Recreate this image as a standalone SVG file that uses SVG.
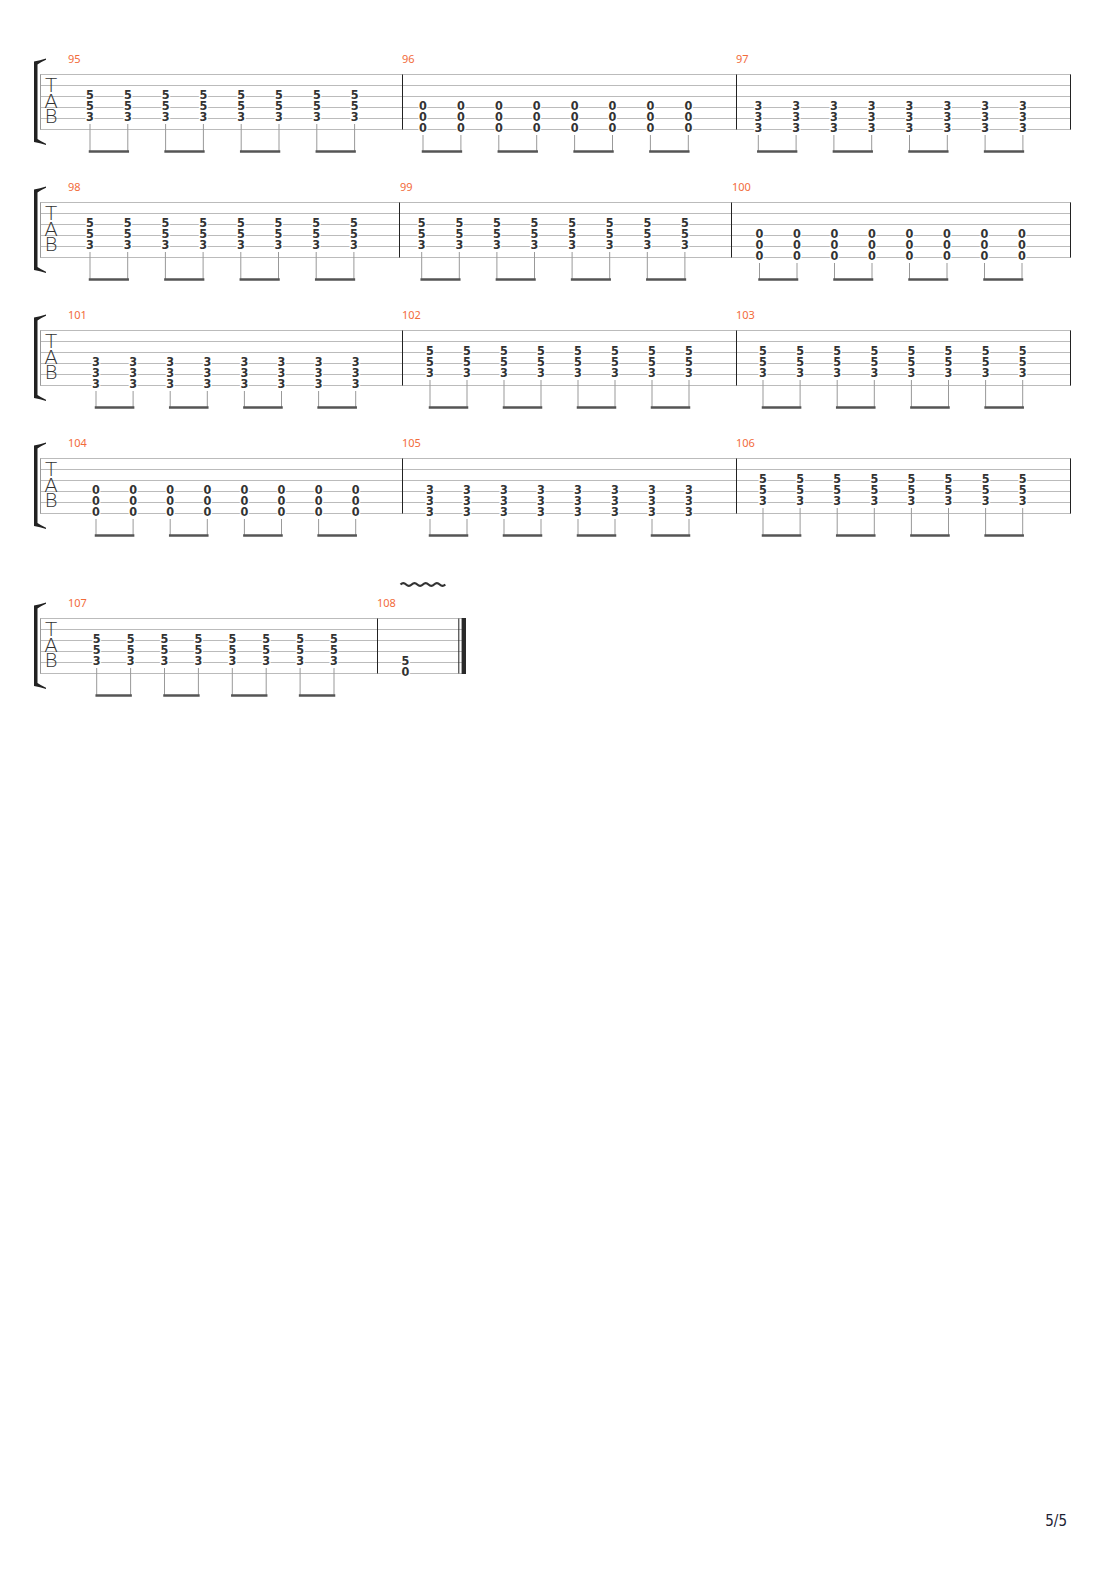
<svg xmlns="http://www.w3.org/2000/svg" width="1110" height="1570" viewBox="0 0 1110 1570">
<style>
.sl{stroke:#bbb;stroke-width:1;fill:none}
.bl{stroke:#222;stroke-width:1;fill:none}
.sys{stroke:#999;stroke-width:1;fill:none}
.st{stroke:#999;stroke-width:1;fill:none}
.bm{stroke:#555;stroke-width:2.5;stroke-linecap:square;fill:none}
.n{font-family:"Liberation Sans Narrow","DejaVu Sans Condensed","DejaVu Sans",sans-serif;font-size:12.5px;font-weight:bold;fill:#333;text-anchor:middle;stroke:#fff;stroke-width:2.5px;paint-order:stroke;stroke-linejoin:round}
.mn{font-family:"Noto Sans","DejaVu Sans",sans-serif;font-size:11px;fill:#f26b3a}
.tab{font-family:"DejaVu Sans",sans-serif;font-weight:200;font-size:20px;fill:#333;text-anchor:middle}
.br{fill:#222}
.pg{font-family:"DejaVu Sans Condensed","DejaVu Sans",sans-serif;font-size:15px;fill:#1c2233;text-anchor:end}
</style>
<defs>
<path id="bracket" class="br" d="M34 61.5Q40 60.5 46 58.5L46 59.8Q41 62 37.5 64.5L37.5 139Q41 141.5 46 143.7L46 145Q40 143 34 142Z"/>
</defs>
<rect width="1110" height="1570" fill="#fff"/>

<!-- System 1 -->
<g id="system1">
<use href="#bracket"/>
<path class="sl" d="M40 74.5H1071M40 85.5H1071M40 96.5H1071M40 107.5H1071M40 118.5H1071M40 129.5H1071"/>
<path class="sys" d="M40.5 74.5V129.5"/>
<path class="bl" d="M402.5 74.5V129.5M736.5 74.5V129.5M1070.5 74.5V129.5"/>
<text class="tab" x="51" y="91.7">T</text><text class="tab" x="51" y="107.7">A</text><text class="tab" x="51" y="123.3">B</text>
<text class="mn" x="68" y="62.5">95</text><text class="mn" x="402" y="62.5">96</text><text class="mn" x="736" y="62.5">97</text>
<g id="m95" class="n">
<text x="90" y="98.5">5</text><text x="90" y="109.5">5</text><text x="90" y="120.5">3</text>
<text x="127.8" y="98.5">5</text><text x="127.8" y="109.5">5</text><text x="127.8" y="120.5">3</text>
<text x="165.6" y="98.5">5</text><text x="165.6" y="109.5">5</text><text x="165.6" y="120.5">3</text>
<text x="203.4" y="98.5">5</text><text x="203.4" y="109.5">5</text><text x="203.4" y="120.5">3</text>
<text x="241.2" y="98.5">5</text><text x="241.2" y="109.5">5</text><text x="241.2" y="120.5">3</text>
<text x="279" y="98.5">5</text><text x="279" y="109.5">5</text><text x="279" y="120.5">3</text>
<text x="316.8" y="98.5">5</text><text x="316.8" y="109.5">5</text><text x="316.8" y="120.5">3</text>
<text x="354.6" y="98.5">5</text><text x="354.6" y="109.5">5</text><text x="354.6" y="120.5">3</text>
</g>
<g id="m96" class="n">
<text x="423" y="109.5">0</text><text x="423" y="120.5">0</text><text x="423" y="131.5">0</text>
<text x="460.9" y="109.5">0</text><text x="460.9" y="120.5">0</text><text x="460.9" y="131.5">0</text>
<text x="498.8" y="109.5">0</text><text x="498.8" y="120.5">0</text><text x="498.8" y="131.5">0</text>
<text x="536.7" y="109.5">0</text><text x="536.7" y="120.5">0</text><text x="536.7" y="131.5">0</text>
<text x="574.6" y="109.5">0</text><text x="574.6" y="120.5">0</text><text x="574.6" y="131.5">0</text>
<text x="612.5" y="109.5">0</text><text x="612.5" y="120.5">0</text><text x="612.5" y="131.5">0</text>
<text x="650.4" y="109.5">0</text><text x="650.4" y="120.5">0</text><text x="650.4" y="131.5">0</text>
<text x="688.3" y="109.5">0</text><text x="688.3" y="120.5">0</text><text x="688.3" y="131.5">0</text>
</g>
<g id="m97" class="n">
<text x="758.3" y="109.5">3</text><text x="758.3" y="120.5">3</text><text x="758.3" y="131.5">3</text>
<text x="796.1" y="109.5">3</text><text x="796.1" y="120.5">3</text><text x="796.1" y="131.5">3</text>
<text x="833.9" y="109.5">3</text><text x="833.9" y="120.5">3</text><text x="833.9" y="131.5">3</text>
<text x="871.7" y="109.5">3</text><text x="871.7" y="120.5">3</text><text x="871.7" y="131.5">3</text>
<text x="909.5" y="109.5">3</text><text x="909.5" y="120.5">3</text><text x="909.5" y="131.5">3</text>
<text x="947.3" y="109.5">3</text><text x="947.3" y="120.5">3</text><text x="947.3" y="131.5">3</text>
<text x="985.1" y="109.5">3</text><text x="985.1" y="120.5">3</text><text x="985.1" y="131.5">3</text>
<text x="1022.9" y="109.5">3</text><text x="1022.9" y="120.5">3</text><text x="1022.9" y="131.5">3</text>
</g>
</g>

<!-- System 2 -->
<g id="system2">
<use href="#bracket" y="128"/>
<path class="sl" d="M40 202.5H1071M40 213.5H1071M40 224.5H1071M40 235.5H1071M40 246.5H1071M40 257.5H1071"/>
<path class="sys" d="M40.5 202.5V257.5"/>
<path class="bl" d="M399.5 202.5V257.5M731.5 202.5V257.5M1070.5 202.5V257.5"/>
<text class="tab" x="51" y="219.7">T</text><text class="tab" x="51" y="235.7">A</text><text class="tab" x="51" y="251.3">B</text>
<text class="mn" x="68" y="190.5">98</text><text class="mn" x="400" y="190.5">99</text><text class="mn" x="732" y="190.5">100</text>
<g id="m98" class="n">
<text x="90" y="226.5">5</text><text x="90" y="237.5">5</text><text x="90" y="248.5">3</text>
<text x="127.7" y="226.5">5</text><text x="127.7" y="237.5">5</text><text x="127.7" y="248.5">3</text>
<text x="165.4" y="226.5">5</text><text x="165.4" y="237.5">5</text><text x="165.4" y="248.5">3</text>
<text x="203.1" y="226.5">5</text><text x="203.1" y="237.5">5</text><text x="203.1" y="248.5">3</text>
<text x="240.8" y="226.5">5</text><text x="240.8" y="237.5">5</text><text x="240.8" y="248.5">3</text>
<text x="278.5" y="226.5">5</text><text x="278.5" y="237.5">5</text><text x="278.5" y="248.5">3</text>
<text x="316.2" y="226.5">5</text><text x="316.2" y="237.5">5</text><text x="316.2" y="248.5">3</text>
<text x="353.9" y="226.5">5</text><text x="353.9" y="237.5">5</text><text x="353.9" y="248.5">3</text>
</g>
<g id="m99" class="n">
<text x="421.7" y="226.5">5</text><text x="421.7" y="237.5">5</text><text x="421.7" y="248.5">3</text>
<text x="459.3" y="226.5">5</text><text x="459.3" y="237.5">5</text><text x="459.3" y="248.5">3</text>
<text x="496.9" y="226.5">5</text><text x="496.9" y="237.5">5</text><text x="496.9" y="248.5">3</text>
<text x="534.5" y="226.5">5</text><text x="534.5" y="237.5">5</text><text x="534.5" y="248.5">3</text>
<text x="572.1" y="226.5">5</text><text x="572.1" y="237.5">5</text><text x="572.1" y="248.5">3</text>
<text x="609.7" y="226.5">5</text><text x="609.7" y="237.5">5</text><text x="609.7" y="248.5">3</text>
<text x="647.3" y="226.5">5</text><text x="647.3" y="237.5">5</text><text x="647.3" y="248.5">3</text>
<text x="684.9" y="226.5">5</text><text x="684.9" y="237.5">5</text><text x="684.9" y="248.5">3</text>
</g>
<g id="m100" class="n">
<text x="759.5" y="237.5">0</text><text x="759.5" y="248.5">0</text><text x="759.5" y="259.5">0</text>
<text x="797" y="237.5">0</text><text x="797" y="248.5">0</text><text x="797" y="259.5">0</text>
<text x="834.5" y="237.5">0</text><text x="834.5" y="248.5">0</text><text x="834.5" y="259.5">0</text>
<text x="872" y="237.5">0</text><text x="872" y="248.5">0</text><text x="872" y="259.5">0</text>
<text x="909.5" y="237.5">0</text><text x="909.5" y="248.5">0</text><text x="909.5" y="259.5">0</text>
<text x="947" y="237.5">0</text><text x="947" y="248.5">0</text><text x="947" y="259.5">0</text>
<text x="984.5" y="237.5">0</text><text x="984.5" y="248.5">0</text><text x="984.5" y="259.5">0</text>
<text x="1022" y="237.5">0</text><text x="1022" y="248.5">0</text><text x="1022" y="259.5">0</text>
</g>
</g>

<!-- System 3 -->
<g id="system3">
<use href="#bracket" y="256"/>
<path class="sl" d="M40 330.5H1071M40 341.5H1071M40 352.5H1071M40 363.5H1071M40 374.5H1071M40 385.5H1071"/>
<path class="sys" d="M40.5 330.5V385.5"/>
<path class="bl" d="M402.5 330.5V385.5M736.5 330.5V385.5M1070.5 330.5V385.5"/>
<text class="tab" x="51" y="347.7">T</text><text class="tab" x="51" y="363.7">A</text><text class="tab" x="51" y="379.3">B</text>
<text class="mn" x="68" y="318.5">101</text><text class="mn" x="402" y="318.5">102</text><text class="mn" x="736" y="318.5">103</text>
<g id="m101" class="n">
<text x="96" y="365.5">3</text><text x="96" y="376.5">3</text><text x="96" y="387.5">3</text>
<text x="133.1" y="365.5">3</text><text x="133.1" y="376.5">3</text><text x="133.1" y="387.5">3</text>
<text x="170.2" y="365.5">3</text><text x="170.2" y="376.5">3</text><text x="170.2" y="387.5">3</text>
<text x="207.3" y="365.5">3</text><text x="207.3" y="376.5">3</text><text x="207.3" y="387.5">3</text>
<text x="244.4" y="365.5">3</text><text x="244.4" y="376.5">3</text><text x="244.4" y="387.5">3</text>
<text x="281.5" y="365.5">3</text><text x="281.5" y="376.5">3</text><text x="281.5" y="387.5">3</text>
<text x="318.6" y="365.5">3</text><text x="318.6" y="376.5">3</text><text x="318.6" y="387.5">3</text>
<text x="355.7" y="365.5">3</text><text x="355.7" y="376.5">3</text><text x="355.7" y="387.5">3</text>
</g>
<g id="m102" class="n">
<text x="430" y="354.5">5</text><text x="430" y="365.5">5</text><text x="430" y="376.5">3</text>
<text x="467" y="354.5">5</text><text x="467" y="365.5">5</text><text x="467" y="376.5">3</text>
<text x="504" y="354.5">5</text><text x="504" y="365.5">5</text><text x="504" y="376.5">3</text>
<text x="541" y="354.5">5</text><text x="541" y="365.5">5</text><text x="541" y="376.5">3</text>
<text x="578" y="354.5">5</text><text x="578" y="365.5">5</text><text x="578" y="376.5">3</text>
<text x="615" y="354.5">5</text><text x="615" y="365.5">5</text><text x="615" y="376.5">3</text>
<text x="652" y="354.5">5</text><text x="652" y="365.5">5</text><text x="652" y="376.5">3</text>
<text x="689" y="354.5">5</text><text x="689" y="365.5">5</text><text x="689" y="376.5">3</text>
</g>
<g id="m103" class="n">
<text x="763" y="354.5">5</text><text x="763" y="365.5">5</text><text x="763" y="376.5">3</text>
<text x="800.1" y="354.5">5</text><text x="800.1" y="365.5">5</text><text x="800.1" y="376.5">3</text>
<text x="837.2" y="354.5">5</text><text x="837.2" y="365.5">5</text><text x="837.2" y="376.5">3</text>
<text x="874.3" y="354.5">5</text><text x="874.3" y="365.5">5</text><text x="874.3" y="376.5">3</text>
<text x="911.4" y="354.5">5</text><text x="911.4" y="365.5">5</text><text x="911.4" y="376.5">3</text>
<text x="948.5" y="354.5">5</text><text x="948.5" y="365.5">5</text><text x="948.5" y="376.5">3</text>
<text x="985.6" y="354.5">5</text><text x="985.6" y="365.5">5</text><text x="985.6" y="376.5">3</text>
<text x="1022.7" y="354.5">5</text><text x="1022.7" y="365.5">5</text><text x="1022.7" y="376.5">3</text>
</g>
</g>

<!-- System 4 -->
<g id="system4">
<use href="#bracket" y="384"/>
<path class="sl" d="M40 458.5H1071M40 469.5H1071M40 480.5H1071M40 491.5H1071M40 502.5H1071M40 513.5H1071"/>
<path class="sys" d="M40.5 458.5V513.5"/>
<path class="bl" d="M402.5 458.5V513.5M736.5 458.5V513.5M1070.5 458.5V513.5"/>
<text class="tab" x="51" y="475.7">T</text><text class="tab" x="51" y="491.7">A</text><text class="tab" x="51" y="507.3">B</text>
<text class="mn" x="68" y="446.5">104</text><text class="mn" x="402" y="446.5">105</text><text class="mn" x="736" y="446.5">106</text>
<g id="m104" class="n">
<text x="96" y="493.5">0</text><text x="96" y="504.5">0</text><text x="96" y="515.5">0</text>
<text x="133.1" y="493.5">0</text><text x="133.1" y="504.5">0</text><text x="133.1" y="515.5">0</text>
<text x="170.2" y="493.5">0</text><text x="170.2" y="504.5">0</text><text x="170.2" y="515.5">0</text>
<text x="207.3" y="493.5">0</text><text x="207.3" y="504.5">0</text><text x="207.3" y="515.5">0</text>
<text x="244.4" y="493.5">0</text><text x="244.4" y="504.5">0</text><text x="244.4" y="515.5">0</text>
<text x="281.5" y="493.5">0</text><text x="281.5" y="504.5">0</text><text x="281.5" y="515.5">0</text>
<text x="318.6" y="493.5">0</text><text x="318.6" y="504.5">0</text><text x="318.6" y="515.5">0</text>
<text x="355.7" y="493.5">0</text><text x="355.7" y="504.5">0</text><text x="355.7" y="515.5">0</text>
</g>
<g id="m105" class="n">
<text x="430" y="493.5">3</text><text x="430" y="504.5">3</text><text x="430" y="515.5">3</text>
<text x="467" y="493.5">3</text><text x="467" y="504.5">3</text><text x="467" y="515.5">3</text>
<text x="504" y="493.5">3</text><text x="504" y="504.5">3</text><text x="504" y="515.5">3</text>
<text x="541" y="493.5">3</text><text x="541" y="504.5">3</text><text x="541" y="515.5">3</text>
<text x="578" y="493.5">3</text><text x="578" y="504.5">3</text><text x="578" y="515.5">3</text>
<text x="615" y="493.5">3</text><text x="615" y="504.5">3</text><text x="615" y="515.5">3</text>
<text x="652" y="493.5">3</text><text x="652" y="504.5">3</text><text x="652" y="515.5">3</text>
<text x="689" y="493.5">3</text><text x="689" y="504.5">3</text><text x="689" y="515.5">3</text>
</g>
<g id="m106" class="n">
<text x="763" y="482.5">5</text><text x="763" y="493.5">5</text><text x="763" y="504.5">3</text>
<text x="800.1" y="482.5">5</text><text x="800.1" y="493.5">5</text><text x="800.1" y="504.5">3</text>
<text x="837.2" y="482.5">5</text><text x="837.2" y="493.5">5</text><text x="837.2" y="504.5">3</text>
<text x="874.3" y="482.5">5</text><text x="874.3" y="493.5">5</text><text x="874.3" y="504.5">3</text>
<text x="911.4" y="482.5">5</text><text x="911.4" y="493.5">5</text><text x="911.4" y="504.5">3</text>
<text x="948.5" y="482.5">5</text><text x="948.5" y="493.5">5</text><text x="948.5" y="504.5">3</text>
<text x="985.6" y="482.5">5</text><text x="985.6" y="493.5">5</text><text x="985.6" y="504.5">3</text>
<text x="1022.7" y="482.5">5</text><text x="1022.7" y="493.5">5</text><text x="1022.7" y="504.5">3</text>
</g>
</g>

<!-- System 5 -->
<g id="system5">
<use href="#bracket" y="544"/>
<path class="sl" d="M40 618.5H466M40 629.5H466M40 640.5H466M40 651.5H466M40 662.5H466M40 673.5H466"/>
<path class="sys" d="M40.5 618.5V673.5"/>
<path class="bl" d="M377.5 618.5V673.5M458.8 618.5V673.5"/>
<rect x="461.6" y="618" width="4.4" height="56" fill="#2a2a2a"/>
<text class="tab" x="51" y="635.7">T</text><text class="tab" x="51" y="651.7">A</text><text class="tab" x="51" y="667.3">B</text>
<text class="mn" x="68" y="606.5">107</text><text class="mn" x="377" y="606.5">108</text>
<path id="vibrato" d="M400.5 584.5q2.8 -2.6 5.6 0t5.6 0t5.6 0t5.6 0t5.6 0t5.6 0t5.6 0t5.6 0" fill="none" stroke="#333" stroke-width="2.2"/>
<g id="m107" class="n">
<text x="96.7" y="642.5">5</text><text x="96.7" y="653.5">5</text><text x="96.7" y="664.5">3</text>
<text x="130.6" y="642.5">5</text><text x="130.6" y="653.5">5</text><text x="130.6" y="664.5">3</text>
<text x="164.5" y="642.5">5</text><text x="164.5" y="653.5">5</text><text x="164.5" y="664.5">3</text>
<text x="198.4" y="642.5">5</text><text x="198.4" y="653.5">5</text><text x="198.4" y="664.5">3</text>
<text x="232.3" y="642.5">5</text><text x="232.3" y="653.5">5</text><text x="232.3" y="664.5">3</text>
<text x="266.2" y="642.5">5</text><text x="266.2" y="653.5">5</text><text x="266.2" y="664.5">3</text>
<text x="300.1" y="642.5">5</text><text x="300.1" y="653.5">5</text><text x="300.1" y="664.5">3</text>
<text x="334" y="642.5">5</text><text x="334" y="653.5">5</text><text x="334" y="664.5">3</text>
</g>
<g id="m108" class="n">
<text x="405.5" y="664.5">5</text><text x="405.5" y="675.5">0</text>
</g>
</g>

<!-- stems and beams -->
<g id="beams">
<path class="st" d="M90 124V151M127.8 124V151M165.6 124V151M203.4 124V151M241.2 124V151M279 124V151M316.8 124V151M354.6 124V151
M423 135V151M460.9 135V151M498.8 135V151M536.7 135V151M574.6 135V151M612.5 135V151M650.4 135V151M688.3 135V151
M758.3 135V151M796.1 135V151M833.9 135V151M871.7 135V151M909.5 135V151M947.3 135V151M985.1 135V151M1022.9 135V151"/>
<path class="bm" d="M90 151.5H127.8M165.6 151.5H203.4M241.2 151.5H279M316.8 151.5H354.6
M423 151.5H460.9M498.8 151.5H536.7M574.6 151.5H612.5M650.4 151.5H688.3
M758.3 151.5H796.1M833.9 151.5H871.7M909.5 151.5H947.3M985.1 151.5H1022.9"/>
<path class="st" d="M90 252V279M127.7 252V279M165.4 252V279M203.1 252V279M240.8 252V279M278.5 252V279M316.2 252V279M353.9 252V279
M421.7 252V279M459.3 252V279M496.9 252V279M534.5 252V279M572.1 252V279M609.7 252V279M647.3 252V279M684.9 252V279
M759.5 263V279M797 263V279M834.5 263V279M872 263V279M909.5 263V279M947 263V279M984.5 263V279M1022 263V279"/>
<path class="bm" d="M90 279.5H127.7M165.4 279.5H203.1M240.8 279.5H278.5M316.2 279.5H353.9
M421.7 279.5H459.3M496.9 279.5H534.5M572.1 279.5H609.7M647.3 279.5H684.9
M759.5 279.5H797M834.5 279.5H872M909.5 279.5H947M984.5 279.5H1022"/>
<path class="st" d="M96 391V407M133.1 391V407M170.2 391V407M207.3 391V407M244.4 391V407M281.5 391V407M318.6 391V407M355.7 391V407
M430 380V407M467 380V407M504 380V407M541 380V407M578 380V407M615 380V407M652 380V407M689 380V407
M763 380V407M800.1 380V407M837.2 380V407M874.3 380V407M911.4 380V407M948.5 380V407M985.6 380V407M1022.7 380V407"/>
<path class="bm" d="M96 407.5H133.1M170.2 407.5H207.3M244.4 407.5H281.5M318.6 407.5H355.7
M430 407.5H467M504 407.5H541M578 407.5H615M652 407.5H689
M763 407.5H800.1M837.2 407.5H874.3M911.4 407.5H948.5M985.6 407.5H1022.7"/>
<path class="st" d="M96 519V535M133.1 519V535M170.2 519V535M207.3 519V535M244.4 519V535M281.5 519V535M318.6 519V535M355.7 519V535
M430 519V535M467 519V535M504 519V535M541 519V535M578 519V535M615 519V535M652 519V535M689 519V535
M763 508V535M800.1 508V535M837.2 508V535M874.3 508V535M911.4 508V535M948.5 508V535M985.6 508V535M1022.7 508V535"/>
<path class="bm" d="M96 535.5H133.1M170.2 535.5H207.3M244.4 535.5H281.5M318.6 535.5H355.7
M430 535.5H467M504 535.5H541M578 535.5H615M652 535.5H689
M763 535.5H800.1M837.2 535.5H874.3M911.4 535.5H948.5M985.6 535.5H1022.7"/>
<path class="st" d="M96.7 668V695M130.6 668V695M164.5 668V695M198.4 668V695M232.3 668V695M266.2 668V695M300.1 668V695M334 668V695"/>
<path class="bm" d="M96.7 695.5H130.6M164.5 695.5H198.4M232.3 695.5H266.2M300.1 695.5H334"/>
</g>

<text class="pg" x="1067" y="1526">5/5</text>
</svg>
